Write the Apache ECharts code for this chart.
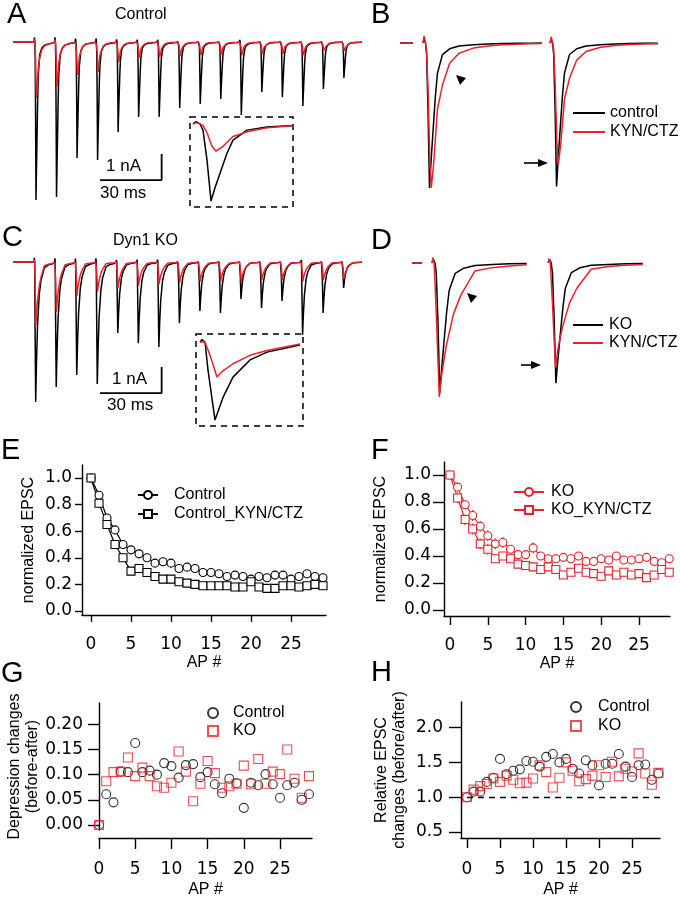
<!DOCTYPE html>
<html><head><meta charset="utf-8">
<script src="https://cdn.jsdelivr.net/npm/echarts@6/dist/echarts.min.js"></script>
<style>html,body{margin:0;padding:0;background:#fff}#c{width:680px;height:899px}</style>
</head><body><div id="c"></div>
<script>
const FONT = '"Liberation Sans", Arial, Helvetica, sans-serif';
const TICKFONT = 'DejaVu Sans';
const BLACK = '#000000';
const RED = '#e8212b';

// ---------- Trace data (A-D) ----------
// stimulus onsets of the 100 Hz train (ms)
const stimOnsetsMs = [10.3, 20.3, 30.3, 40.3, 50.3, 60.3, 70.3, 80.3, 90.3, 100.3, 110.3, 120.3, 130.3, 140.3, 150.3, 160.3];
const trainEndMs = 170;
const trainSpacingMs = 10;
// peak EPSC amplitudes (nA)
const ampControl = [6.08, 5.96, 4.46, 4.54, 3.46, 2.88, 2.88, 2.54, 2.38, 2.19, 2.81, 1.92, 2.12, 2.46, 1.81, 1.38];
const ampControlKyn = [2.15, 1.73, 1.27, 1.15, 0.77, 0.60, 0.58, 0.54, 0.50, 0.48, 0.50, 0.45, 0.45, 0.50, 0.40, 0.40];
const ampKO = [5.38, 4.81, 4.35, 4.69, 2.73, 3.12, 3.27, 2.35, 1.88, 1.96, 1.42, 1.77, 1.50, 2.81, 1.96, 1.00];
const ampKOKyn = [2.42, 1.92, 1.30, 1.15, 1.00, 0.90, 0.85, 0.80, 0.75, 0.75, 0.75, 0.70, 0.70, 0.75, 0.70, 0.65];
// normalized EPSC waveforms [ms, fraction of peak]
const shapeCtrlBlack = [[0,0],[0.15,0.03],[0.35,0],[0.5,-0.08],[0.7,-0.47],[0.9,-1.0],[1.1,-0.83],[1.35,-0.64],[1.7,-0.38],[2.0,-0.21],[2.7,-0.08],[3.7,-0.04],[5,-0.02],[7,-0.012],[9,-0.007],[11,-0.004],[13,-0.002],[15,-0.001],[16.5,0]];
const shapeCtrlRed = [[0,0],[0.15,0.05],[0.35,0],[0.5,-0.05],[0.7,-0.32],[0.95,-0.82],[1.15,-1.0],[1.5,-0.82],[2.0,-0.46],[2.7,-0.29],[3.7,-0.14],[5,-0.07],[7,-0.035],[9,-0.02],[11,-0.012],[13,-0.008],[15,-0.005],[16.5,-0.003]];
const shapeKOBlack = [[0,0],[0.1,0.03],[0.25,0],[0.4,-0.36],[0.75,-1.0],[1.15,-0.71],[1.65,-0.45],[2.5,-0.23],[3.35,-0.13],[5,-0.04],[7,-0.02],[9,-0.012],[11,-0.007],[13,-0.004],[15,-0.002],[16.5,0]];
const shapeKORed = [[0,0],[0.1,0.04],[0.25,0],[0.5,-0.38],[0.85,-1.0],[1.15,-0.82],[1.65,-0.62],[2.5,-0.38],[3.35,-0.24],[5,-0.06],[7,-0.035],[9,-0.022],[11,-0.014],[13,-0.009],[15,-0.006],[16.5,-0.004]];
// B / D: normalized traces (first and later EPSC)
const bPeaksBlack = [1.0, 0.99];
const bPeaksRed = [1.0, 0.84];
const bOffsetsMs = [0, 17.65];
const bEndsMs = [16.5, 15];
const bPreBaseline = [-3.2, -1.4];
const dPeaksBlack = [0.985, 0.91];
const dPeaksRed = [1.015, 0.79];
const dOffsetsMs = [0, 13.5];
const dEndsMs = [12.5, 11];
const dPreBaseline = [-2.33, -1.15];
// scale bars
const scaleBarMs = 30, scaleBarNA = 1;
const scaleCornerA = [72.4, -5.31];
const scaleCornerC = [72.4, -5.04];

// ---------- Summary data (E-H) ----------
const apIndex = [0,1,2,3,4,5,6,7,8,9,10,11,12,13,14,15,16,17,18,19,20,21,22,23,24,25,26,27,28,29];
const apTicks = [0,5,10,15,20,25];
const eControl = [1.00,0.87,0.70,0.61,0.50,0.46,0.43,0.40,0.36,0.37,0.36,0.32,0.33,0.32,0.29,0.29,0.28,0.26,0.27,0.26,0.24,0.26,0.25,0.27,0.27,0.24,0.26,0.28,0.26,0.25];
const eControlErr = [0,0.02,0.02,0.02,0.02,0.02,0.02,0.02,0.02,0.02,0.02,0.02,0.02,0.02,0.02,0.02,0.02,0.02,0.02,0.02,0.02,0.02,0.02,0.02,0.02,0.02,0.02,0.02,0.02,0.02];
const eKyn = [1.00,0.81,0.65,0.50,0.40,0.30,0.32,0.29,0.26,0.24,0.24,0.22,0.21,0.20,0.19,0.19,0.19,0.19,0.18,0.18,0.22,0.18,0.17,0.17,0.19,0.19,0.18,0.19,0.20,0.19];
const eKynErr = [0,0.03,0.03,0.03,0.03,0.02,0.02,0.02,0.02,0.02,0.02,0.02,0.02,0.02,0.02,0.02,0.02,0.02,0.02,0.02,0.02,0.02,0.02,0.02,0.02,0.02,0.02,0.02,0.02,0.02];
const fKO = [1.00,0.91,0.78,0.70,0.62,0.55,0.49,0.50,0.45,0.41,0.41,0.46,0.40,0.38,0.38,0.39,0.38,0.40,0.36,0.36,0.38,0.37,0.40,0.37,0.37,0.38,0.39,0.36,0.35,0.38];
const fKOErr = [0,0.03,0.03,0.04,0.04,0.04,0.04,0.04,0.03,0.03,0.03,0.04,0.03,0.03,0.03,0.03,0.03,0.03,0.03,0.03,0.03,0.03,0.03,0.03,0.03,0.03,0.03,0.03,0.03,0.03];
const fKyn = [1.00,0.83,0.67,0.60,0.49,0.45,0.38,0.40,0.38,0.34,0.33,0.32,0.30,0.32,0.30,0.26,0.28,0.31,0.28,0.27,0.25,0.29,0.26,0.28,0.26,0.27,0.24,0.26,0.30,0.28];
const fKynErr = [0,0.04,0.04,0.04,0.04,0.04,0.03,0.03,0.03,0.03,0.03,0.03,0.03,0.03,0.03,0.03,0.03,0.03,0.03,0.03,0.03,0.03,0.03,0.03,0.03,0.03,0.03,0.03,0.03,0.03];
const gControl = [0.000,0.061,0.045,0.106,0.105,0.163,0.105,0.108,0.100,0.123,0.117,0.094,0.119,0.121,0.095,0.105,0.081,0.063,0.092,0.083,0.034,0.084,0.079,0.101,0.081,0.054,0.079,0.084,0.050,0.061];
const gKO = [0.000,0.087,0.105,0.106,0.134,0.097,0.114,0.097,0.077,0.074,0.084,0.146,0.106,0.047,0.082,0.127,0.103,0.074,0.077,0.082,0.118,0.081,0.131,0.082,0.106,0.101,0.150,0.092,0.054,0.097];
const hControl = [1.00,1.08,1.08,1.22,1.28,1.55,1.33,1.38,1.40,1.52,1.51,1.44,1.58,1.62,1.50,1.55,1.41,1.34,1.53,1.46,1.17,1.48,1.48,1.62,1.44,1.29,1.46,1.47,1.25,1.34];
const hKO = [1.00,1.11,1.16,1.19,1.27,1.22,1.31,1.25,1.20,1.21,1.27,1.46,1.36,1.14,1.28,1.50,1.38,1.23,1.26,1.31,1.46,1.29,1.51,1.30,1.41,1.37,1.63,1.34,1.18,1.35];
const eTicks = [0,0.2,0.4,0.6,0.8,1.0];
const gTicks = [0,0.05,0.10,0.15,0.20];
const hTicks = [0.5,1.0,1.5,2.0];

// ---------- builders ----------
function buildTrain(shape, amps) {
  const pts = [[0, 0]];
  stimOnsetsMs.forEach((on, k) => {
    shape.forEach(([t, v]) => { if (t < trainSpacingMs) pts.push([on + t, amps[k] * v]); });
  });
  pts.push([trainEndMs, 0]);
  return pts;
}
function buildSingle(shape, amp, offset, endT) {
  return shape.filter(([t]) => t <= endT).map(([t, v]) => [offset + t, amp * v]);
}
function buildPair(shape, peaks, offsets, ends, pre) {
  let pts = [[pre[0], 0], [pre[1], 0], ['-', '-']];
  peaks.forEach((p, i) => {
    if (i > 0) pts.push(['-', '-']);
    pts = pts.concat(buildSingle(shape, p, offsets[i], ends[i]));
  });
  return pts;
}
function scaleBar(corner) {
  return [[corner[0] - scaleBarMs, corner[1]], [corner[0], corner[1]], [corner[0], corner[1] + scaleBarNA]];
}
function pairs(xs, ys) { return xs.map((x, i) => [x, ys[i]]); }
function triples(xs, ys, es) { return xs.map((x, i) => [x, ys[i], es[i]]); }

// ---------- layout ----------
const grids = [
  {left: 13, top: 29, width: 349, height: 182},    // 0 A train
  {left: 190, top: 117, width: 103, height: 90},   // 1 A inset
  {left: 395, top: 30, width: 265, height: 170},   // 2 B
  {left: 13, top: 249, width: 349, height: 182},   // 3 C train
  {left: 196, top: 334, width: 107, height: 92},   // 4 C inset
  {left: 395, top: 250, width: 265, height: 170},  // 5 D
  {left: 82, top: 465, width: 244, height: 150},   // 6 E
  {left: 444, top: 462, width: 226, height: 154},  // 7 F
  {left: 99, top: 703, width: 213, height: 130},   // 8 G
  {left: 461, top: 702, width: 199, height: 138}   // 9 H
];
const hidden = (g, min, max) => ({type: 'value', gridIndex: g, min, max, show: false});
const axisLineStyle = {color: BLACK, width: 1.4};
function sciX(g, min, max, o) {
  return {type: 'value', gridIndex: g, min, max,
    offset: o.offset || 0,
    axisLine: {show: true, onZero: false, lineStyle: axisLineStyle},
    axisTick: {show: true, customValues: apTicks, length: o.tick, lineStyle: axisLineStyle},
    axisLabel: {customValues: apTicks, color: BLACK, fontSize: 17, fontFamily: TICKFONT, margin: o.margin},
    splitLine: {show: false},
    name: 'AP #', nameLocation: 'middle', nameGap: o.nameGap,
    nameTextStyle: {color: BLACK, fontSize: 16, fontFamily: FONT}};
}
function sciY(g, min, max, ticks, dec, o) {
  return {type: 'value', gridIndex: g, min, max,
    axisLine: {show: true, onZero: false, lineStyle: axisLineStyle},
    axisTick: {show: true, customValues: ticks, length: o.tick, lineStyle: axisLineStyle},
    axisLabel: {customValues: ticks, formatter: v => v.toFixed(dec), color: BLACK, fontSize: 17, fontFamily: TICKFONT, margin: o.margin},
    splitLine: {show: false},
    name: o.name, nameLocation: 'middle', nameGap: o.nameGap,
    nameTextStyle: {color: BLACK, fontSize: 16, fontFamily: FONT, lineHeight: 18}};
}

const xAxes = [
  hidden(0, 0, trainEndMs), hidden(1, -0.15, 5.0), hidden(2, -3.89, 32.92),
  hidden(3, 0, trainEndMs), hidden(4, -0.2, 5.15), hidden(5, -4.3, 26.5),
  sciX(6, -1.125, 29.375, {tick: 7, margin: 21, nameGap: 40}),
  sciX(7, -0.794, 29.1, {tick: 9, margin: 21, nameGap: 40}),
  sciX(8, 0, 29.42, {tick: 11, margin: 23, nameGap: 44, offset: 8}),
  sciX(9, -0.909, 29.24, {tick: 10, margin: 23, nameGap: 44})
];
const yAxes = [
  hidden(0, -6.5, 0.5), hidden(1, -6.56, 0.55), hidden(2, -1.083, 0.09),
  hidden(3, -6.5, 0.5), hidden(4, -5.79, 0.55), hidden(5, -1.189, 0.098),
  sciY(6, -0.03, 1.098, eTicks, 1, {tick: 7, margin: 10, name: 'normalized EPSC', nameGap: 44}),
  sciY(7, -0.044, 1.096, eTicks, 1, {tick: 11, margin: 13, name: 'normalized EPSC', nameGap: 54}),
  sciY(8, -0.01, 0.2424, gTicks, 2, {tick: 11, margin: 16, name: 'Depression changes\n(before-after)', nameGap: 53}),
  sciY(9, 0.415, 2.367, hTicks, 1, {tick: 12, margin: 18, name: 'Relative EPSC\nchanges (before/after)', nameGap: 52})
];

const trace = (name, g, data, color, w) => ({
  type: 'line', name, xAxisIndex: g, yAxisIndex: g, data, showSymbol: false, symbol: 'none',
  connectNulls: false, clip: false, silent: true, animation: false,
  lineStyle: {color, width: w || 1.5}, itemStyle: {color}
});
const errBars = (g, data, color) => ({
  type: 'custom', xAxisIndex: g, yAxisIndex: g, data, silent: true, animation: false, z: 1,
  renderItem: (params, api) => {
    const x = api.value(0), y = api.value(1), e = api.value(2);
    const p1 = api.coord([x, y - e]), p2 = api.coord([x, y + e]);
    return {type: 'line', shape: {x1: p1[0], y1: p1[1], x2: p2[0], y2: p2[1]}, style: {stroke: color, lineWidth: 1.1}};
  }
});
const markerLine = (name, g, data, color, symbol) => ({
  type: 'line', name, xAxisIndex: g, yAxisIndex: g, data, symbol, symbolSize: 8, showSymbol: true,
  clip: false, silent: true, animation: false, z: 3,
  lineStyle: {color, width: 1.2},
  itemStyle: {color: '#ffffff', borderColor: color, borderWidth: 1.1}
});
const scatter = (name, g, data, color, symbol) => ({
  type: 'scatter', name, xAxisIndex: g, yAxisIndex: g, data, symbol, symbolSize: 9,
  clip: false, silent: true, animation: false,
  itemStyle: {color: 'rgba(0,0,0,0)', borderColor: color, borderWidth: 1.1}
});

const series = [
  trace('A|black', 0, buildTrain(shapeCtrlBlack, ampControl), BLACK),
  trace('A|red', 0, buildTrain(shapeCtrlRed, ampControlKyn), RED),
  trace('A|scale', 0, scaleBar(scaleCornerA), BLACK, 1.8),
  trace('Ai|black', 1, buildSingle(shapeCtrlBlack, ampControl[0], 0, 5), BLACK),
  trace('Ai|red', 1, buildSingle(shapeCtrlRed, ampControlKyn[0], 0, 5), RED),
  trace('B|control', 2, buildPair(shapeCtrlBlack, bPeaksBlack, bOffsetsMs, bEndsMs, bPreBaseline), BLACK),
  trace('B|KYN/CTZ', 2, buildPair(shapeCtrlRed, bPeaksRed, bOffsetsMs, bEndsMs, bPreBaseline), RED),
  trace('C|black', 3, buildTrain(shapeKOBlack, ampKO), BLACK),
  trace('C|red', 3, buildTrain(shapeKORed, ampKOKyn), RED),
  trace('C|scale', 3, scaleBar(scaleCornerC), BLACK, 1.8),
  trace('Ci|black', 4, buildSingle(shapeKOBlack, ampKO[0], 0, 5), BLACK),
  trace('Ci|red', 4, buildSingle(shapeKORed, ampKOKyn[0], 0, 5), RED),
  trace('D|KO', 5, buildPair(shapeCtrlBlack, dPeaksBlack, dOffsetsMs, dEndsMs, dPreBaseline), BLACK),
  trace('D|KYN/CTZ', 5, buildPair(shapeKORed, dPeaksRed, dOffsetsMs, dEndsMs, dPreBaseline), RED),
  errBars(6, triples(apIndex, eControl, eControlErr), BLACK),
  errBars(6, triples(apIndex, eKyn, eKynErr), BLACK),
  markerLine('E|Control', 6, pairs(apIndex, eControl), BLACK, 'circle'),
  markerLine('E|Control_KYN/CTZ', 6, pairs(apIndex, eKyn), BLACK, 'rect'),
  errBars(7, triples(apIndex, fKO, fKOErr), RED),
  errBars(7, triples(apIndex, fKyn, fKynErr), RED),
  markerLine('F|KO', 7, pairs(apIndex, fKO), RED, 'circle'),
  markerLine('F|KO_KYN/CTZ', 7, pairs(apIndex, fKyn), RED, 'rect'),
  scatter('G|Control', 8, pairs(apIndex, gControl), BLACK, 'circle'),
  scatter('G|KO', 8, pairs(apIndex, gKO), RED, 'rect'),
  Object.assign(scatter('H|Control', 9, pairs(apIndex, hControl), BLACK, 'circle'), {
    markLine: {silent: true, symbol: 'none', animation: false, label: {show: false},
      lineStyle: {color: BLACK, width: 1.3, type: [6, 5]},
      data: [[{coord: [0, 1]}, {coord: [29.24, 1]}]]}
  }),
  scatter('H|KO', 9, pairs(apIndex, hKO), RED, 'rect')
];

const legendBase = (o) => Object.assign({
  orient: 'vertical', padding: 0, selectedMode: false,
  formatter: n => n.split('|')[1],
  textStyle: {color: BLACK, fontSize: 16, fontFamily: FONT, lineHeight: 16, padding: [0, 0, 0, o.pad || 0]}
}, o);
const lineIcon = (name, color) => ({name, icon: 'rect', itemStyle: {color, borderWidth: 0}});
const legends = [
  legendBase({left: 573, top: 105, itemWidth: 32, itemHeight: 2, itemGap: 3,
    data: [lineIcon('B|control', BLACK), lineIcon('B|KYN/CTZ', RED)]}),
  legendBase({left: 573, top: 317, itemWidth: 30, itemHeight: 2, itemGap: 2, pad: 1,
    data: [lineIcon('D|KO', BLACK), lineIcon('D|KYN/CTZ', RED)]}),
  legendBase({left: 137, top: 487, itemWidth: 20, itemHeight: 10, itemGap: 3, pad: 11, data: ['E|Control', 'E|Control_KYN/CTZ']}),
  legendBase({left: 513, top: 484, itemWidth: 30, itemHeight: 10, itemGap: 2, pad: 2, data: ['F|KO', 'F|KO_KYN/CTZ']}),
  legendBase({left: 207, top: 705, itemWidth: 10, itemHeight: 10, itemGap: 2, pad: 10, data: ['G|Control', 'G|KO']}),
  legendBase({left: 570, top: 699, itemWidth: 10, itemHeight: 10, itemGap: 3, pad: 12, data: ['H|Control', 'H|KO']})
];

const txt = (x, y, text, size, align) => ({
  type: 'text', x, y, silent: true,
  style: {text, fill: BLACK, font: size + 'px ' + FONT, align: align || 'left', verticalAlign: 'middle'}
});
const box = (g) => ({type: 'rect', silent: true, shape: {x: g.left, y: g.top, width: g.width, height: g.height},
  style: {fill: 'none', stroke: BLACK, lineWidth: 1.5, lineDash: [6, 5]}});
const graphics = [
  txt(7, 15, 'A', 29), txt(371, 15, 'B', 29), txt(2, 238, 'C', 29), txt(371, 241, 'D', 29),
  txt(1, 451, 'E', 29), txt(371, 451, 'F', 29), txt(1, 674, 'G', 29), txt(371, 673, 'H', 29),
  txt(115, 15, 'Control', 16), txt(113, 241, 'Dyn1 KO', 16),
  txt(141, 166, '1 nA', 17, 'right'), txt(100, 193, '30 ms', 17),
  txt(147, 379, '1 nA', 17, 'right'), txt(107, 405, '30 ms', 17),
  box(grids[1]), box(grids[4]),
  {type: 'polygon', silent: true, shape: {points: [[456, 75], [466, 78], [460, 85]]}, style: {fill: BLACK}},
  {type: 'polygon', silent: true, shape: {points: [[467, 293], [477, 296], [471, 303]]}, style: {fill: BLACK}},
  {type: 'line', silent: true, shape: {x1: 524, y1: 163, x2: 540, y2: 163}, style: {stroke: BLACK, lineWidth: 1.6}},
  {type: 'polygon', silent: true, shape: {points: [[538, 159], [548, 163], [538, 167]]}, style: {fill: BLACK}},
  {type: 'line', silent: true, shape: {x1: 521, y1: 365, x2: 533, y2: 365}, style: {stroke: BLACK, lineWidth: 1.6}},
  {type: 'polygon', silent: true, shape: {points: [[531, 361], [541, 365], [531, 369]]}, style: {fill: BLACK}}
];

const chart = echarts.init(document.getElementById('c'), null, {renderer: 'canvas'});
chart.setOption({
  animation: false,
  backgroundColor: '#ffffff',
  grid: grids.map(g => Object.assign({containLabel: false}, g)),
  xAxis: xAxes, yAxis: yAxes,
  legend: legends,
  series,
  graphic: graphics
});
</script></body></html>
